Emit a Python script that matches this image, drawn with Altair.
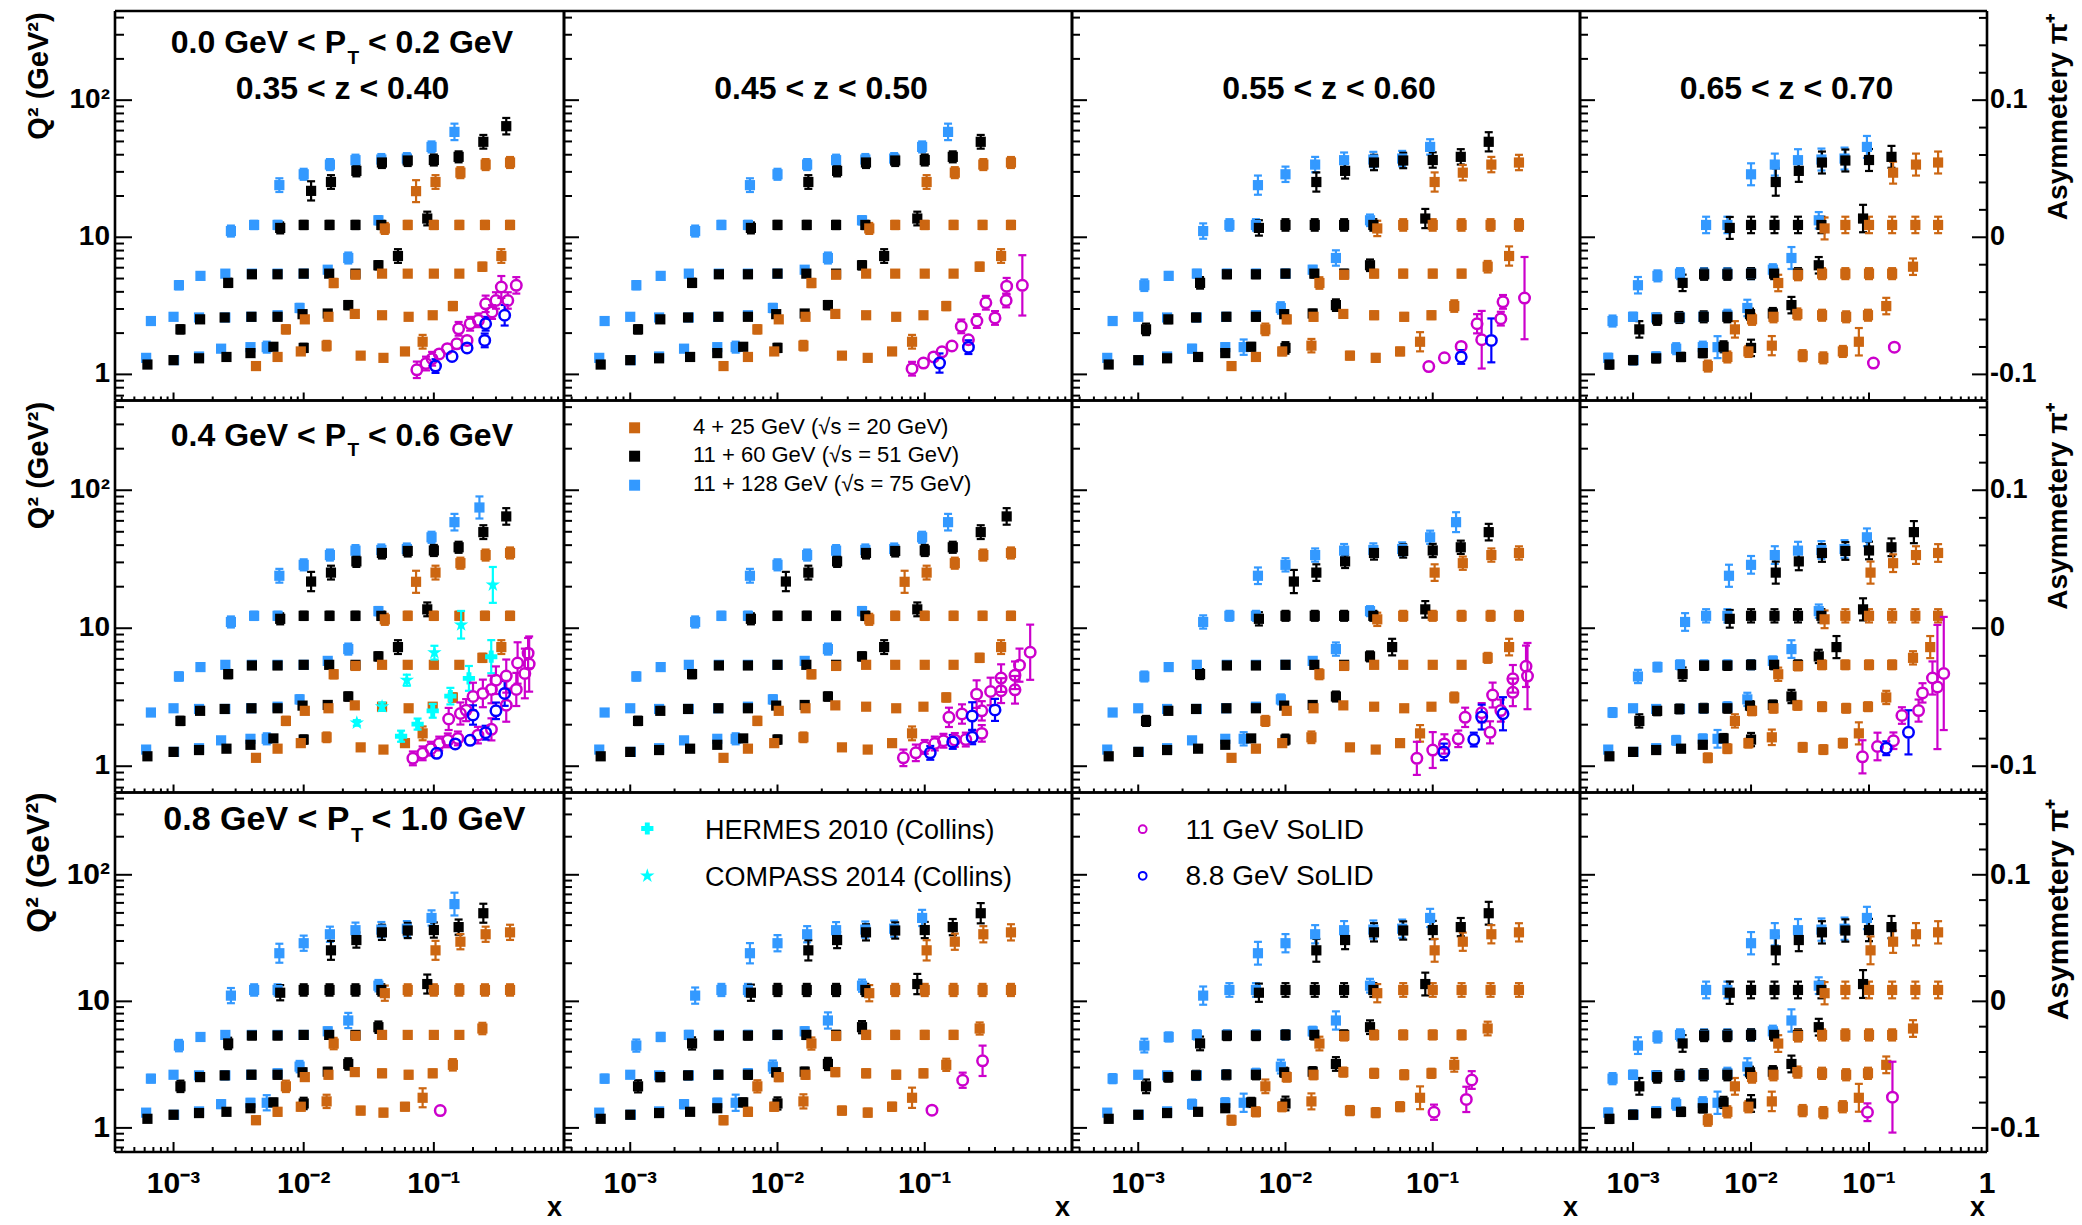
import math
import altair as alt
import pandas as pd

FONT = "Liberation Sans"
FIG_W, FIG_H = 2082, 1225
STAR = ("M0,-1L0.2245,-0.309L0.951,-0.309L0.363,0.118L0.588,0.809L0,0.382"
        "L-0.588,0.809L-0.363,0.118L-0.951,-0.309L-0.2245,-0.309Z")

# ---------------- axis ranges and labels ----------------
X_MIN, X_MAX = 3.55e-4, 1.0
Q2_MIN, Q2_MAX = 0.645, 447.0
LOG_X_SPAN = math.log10(X_MAX / X_MIN)
LOG_Q_SPAN = math.log10(Q2_MAX / Q2_MIN)

# panel frames on the page (left/top edge and size, pixels)
COL_LEFT = [115, 564, 1072, 1580]
COL_W = [449, 508, 508, 407]
ROW_TOP = [11, 400.5, 792.5]
ROW_H = [389.5, 392, 359.5]

Z_LABELS = ["0.35 < z < 0.40", "0.45 < z < 0.50", "0.55 < z < 0.60", "0.65 < z < 0.70"]
PT_LEFT = ["0.0 GeV < P", "0.4 GeV < P", "0.8 GeV < P"]
PT_RIGHT = ["< 0.2 GeV", "< 0.6 GeV", "< 1.0 GeV"]

X_TICK_LABELS = ["10⁻³", "10⁻²", "10⁻¹", "1"]
Q2_TICK_LABELS = ["1", "10", "10²"]
A_TICK_LABELS = ["-0.1", "0", "0.1"]
Q2_TITLE = "Q² (GeV²)"
A_TITLE = "Asymmetery  π⁺"
X_TITLE = "x"

Q2_MAJOR = [1, 10, 100]
Q2_MINOR = [0.7, 0.8, 0.9, 2, 3, 4, 5, 6, 7, 8, 9, 20, 30, 40, 50, 60, 70, 80, 90, 200, 300, 400]
X_MAJOR = [1e-3, 1e-2, 1e-1, 1.0]
X_MINOR = [4e-4, 5e-4, 6e-4, 7e-4, 8e-4, 9e-4,
           2e-3, 3e-3, 4e-3, 5e-3, 6e-3, 7e-3, 8e-3, 9e-3,
           2e-2, 3e-2, 4e-2, 5e-2, 6e-2, 7e-2, 8e-2, 9e-2,
           0.2, 0.3, 0.4, 0.5, 0.6, 0.7, 0.8, 0.9]
A_MAJOR = [-0.1, 0.0, 0.1]
A_MINOR = [-0.08, -0.06, -0.04, -0.02, 0.02, 0.04, 0.06, 0.08, 0.12, 0.14, 0.16]

# ---------------- EIC pseudo-data bins (x, Q2, asymmetry error) ----------------
SERIES = ["4 + 25 GeV", "11 + 60 GeV", "11 + 128 GeV", "11 GeV SoLID", "8.8 GeV SoLID",
          "HERMES 2010", "COMPASS 2014"]
COLORS = ["#CC6611", "#000000", "#3399FF", "#CC00CC", "#0000FF", "#00FFFF", "#00FFFF"]

OR_X = [4.3e-3, 6.3e-3, 9.5e-3, 1.5e-2, 2.74e-2, 4.1e-2, 6.0e-2, 8.2e-2,
        7.3e-3, 1.02e-2, 1.55e-2, 2.47e-2, 4.0e-2, 6.4e-2, 9.8e-2, 0.14,
        1.7e-2, 2.5e-2, 4.0e-2, 6.3e-2, 0.1, 0.157, 0.236, 0.33,
        4.2e-2, 6.3e-2, 0.1, 0.157, 0.247, 0.385,
        7.3e-2, 0.103, 0.16, 0.25, 0.385]
OR_Q2 = [1.15, 1.34, 1.47, 1.62, 1.37, 1.32, 1.47, 1.73,
         2.13, 2.52, 2.63, 2.76, 2.70, 2.63, 2.70, 3.15,
         4.64, 5.33, 5.43, 5.43, 5.43, 5.43, 6.10, 7.30,
         11.6, 12.3, 12.3, 12.3, 12.3, 12.3,
         21.7, 25.3, 29.6, 33.9, 35.1]
OR_ERR = [0.002, 0.002, 0.002, 0.0035, 0.002, 0.002, 0.002, 0.005,
          0.003, 0.002, 0.002, 0.002, 0.002, 0.002, 0.002, 0.003,
          0.003, 0.002, 0.002, 0.002, 0.002, 0.002, 0.003, 0.005,
          0.004, 0.003, 0.003, 0.003, 0.003, 0.003,
          0.008, 0.005, 0.004, 0.004, 0.004]
OR_TAG = ["", "", "", "", "", "", "", "",
          "", "", "", "", "", "", "", "",
          "", "", "", "", "", "", "", "o7",
          "", "", "", "", "", "",
          "o21", "o25", "", "", ""]

BK_X = [6.3e-4, 1.0e-3, 1.57e-3, 2.55e-3, 3.9e-3, 5.85e-3, 1.0e-2,
        1.13e-3, 1.6e-3, 2.47e-3, 3.97e-3, 6.3e-3, 9.8e-3, 1.53e-2, 2.2e-2,
        2.63e-3, 4.0e-3, 6.3e-3, 1.0e-2, 1.57e-2, 2.5e-2, 3.75e-2, 5.3e-2,
        6.6e-3, 1.0e-2, 1.58e-2, 2.5e-2, 3.95e-2, 8.9e-2,
        1.14e-2, 1.62e-2, 2.54e-2, 3.99e-2, 6.3e-2, 0.1, 0.155, 0.24, 0.36]
BK_Q2 = [1.18, 1.27, 1.31, 1.34, 1.43, 1.59, 1.56,
         2.13, 2.52, 2.60, 2.63, 2.63, 2.75, 2.78, 3.20,
         4.65, 5.37, 5.37, 5.43, 5.43, 5.43, 6.25, 7.30,
         11.7, 12.3, 12.3, 12.3, 12.3, 13.7,
         21.8, 25.3, 30.5, 35.1, 36.3, 36.6, 38.6, 49.7, 64.6]
BK_ERR = [0.0015, 0.0015, 0.0015, 0.0015, 0.0015, 0.002, 0.003,
          0.003, 0.002, 0.002, 0.002, 0.002, 0.002, 0.002, 0.003,
          0.003, 0.002, 0.002, 0.002, 0.002, 0.002, 0.003, 0.005,
          0.004, 0.003, 0.003, 0.003, 0.003, 0.005,
          0.007, 0.005, 0.004, 0.004, 0.004, 0.004, 0.004, 0.005, 0.006]
BK_TAG = ["", "", "", "", "", "", "",
          "", "", "", "", "", "", "", "",
          "", "", "", "", "", "", "", "k7",
          "", "", "", "", "", "",
          "k22", "", "", "", "", "", "", "k50", "k65"]

BL_X = [6.16e-4, 1.01e-3, 1.57e-3, 2.32e-3, 3.9e-3, 5.2e-3,
        6.7e-4, 1.0e-3, 1.57e-3, 2.5e-3, 3.95e-3, 6.3e-3, 9.3e-3,
        1.1e-3, 1.61e-3, 2.5e-3, 4.0e-3, 6.3e-3, 1.0e-2, 1.53e-2, 2.2e-2,
        2.76e-3, 4.16e-3, 6.3e-3, 3.75e-2,
        6.5e-3, 1.0e-2, 1.59e-2, 2.5e-2, 3.95e-2, 6.2e-2, 9.6e-2, 0.144, 0.224]
BL_Q2 = [1.32, 1.27, 1.35, 1.54, 1.58, 1.58,
         2.45, 2.63, 2.60, 2.60, 2.63, 2.70, 3.05,
         4.47, 5.23, 5.43, 5.43, 5.43, 5.43, 5.80, 7.06,
         11.1, 12.3, 12.3, 13.3,
         24.0, 28.8, 33.9, 36.5, 36.9, 37.5, 45.6, 58.7, 75.0]
BL_ERR = [0.0015, 0.0015, 0.0015, 0.002, 0.002, 0.004,
          0.002, 0.0015, 0.0015, 0.0015, 0.0015, 0.002, 0.003,
          0.003, 0.002, 0.002, 0.002, 0.002, 0.002, 0.002, 0.004,
          0.004, 0.003, 0.003, 0.003,
          0.005, 0.004, 0.004, 0.004, 0.004, 0.004, 0.004, 0.006, 0.008]
BL_TAG = ["", "", "", "", "", "",
          "", "", "", "", "", "", "",
          "", "", "", "", "", "", "", "",
          "b11", "", "", "",
          "b24", "", "", "", "", "", "", "b59", "b75"]

# optional bins present in each panel (row-major order)
OPT_PRESENT = [
    ["o21", "o25", "o7", "k22", "k65", "k50", "k7", "b24", "b11", "b59"],
    ["o25", "o7", "k50", "k7", "b24", "b11", "b59"],
    ["o25", "o7", "k50", "b24", "b11"],
    [],
    ["o21", "o25", "o7", "k22", "k65", "k50", "k7", "b24", "b11", "b59", "b75"],
    ["o21", "o25", "o7", "k22", "k65", "k50", "k7", "b24", "b11", "b59"],
    ["o25", "o7", "k22", "k50", "k7", "b24", "b11", "b59"],
    ["o25", "o7", "k50", "k7", "b24", "b11"],
    ["o25", "k50", "b24", "b11", "b59"],
    ["o25", "k50", "b24", "b11"],
    ["o25", "k50", "b24", "b11"],
    ["o25"],
]
ERR_SCALE = [1.0, 1.0, 1.4, 2.0,
             1.0, 1.0, 1.2, 1.6,
             1.5, 1.6, 1.8, 2.2]

# SoLID projections (x, Q2, asymmetry error) per panel
MG_PTS = [
    [(0.074, 1.08, .006), (0.087, 1.20, .005), (0.097, 1.30, .005), (0.11, 1.41, .004), (0.127, 1.54, .004),
     (0.15, 1.67, .004), (0.155, 2.15, .005), (0.18, 1.77, .004), (0.19, 2.34, .005), (0.22, 2.48, .005),
     (0.25, 3.27, .006), (0.28, 2.85, .005), (0.30, 3.46, .006), (0.33, 4.34, .008), (0.37, 3.46, .006),
     (0.43, 4.46, .006)],
    [(0.082, 1.10, .005), (0.098, 1.21, .004), (0.115, 1.34, .004), (0.131, 1.46, .004), (0.153, 1.61, .004),
     (0.177, 2.24, .005), (0.198, 1.79, .004), (0.226, 2.45, .005), (0.26, 3.33, .005), (0.30, 2.58, .005),
     (0.357, 3.46, .005), (0.36, 4.40, .006), (0.46, 4.46, .022)],
    [(0.094, 1.14, .003), (0.12, 1.32, .003), (0.156, 1.60, .004), (0.20, 2.34, .007), (0.215, 1.79, .021),
     (0.29, 2.55, .005), (0.30, 3.38, .005), (0.42, 3.60, .030)],
    [(0.109, 1.21, .003), (0.164, 1.58, .004)],
    [(0.069, 1.14, .005), (0.082, 1.24, .005), (0.095, 1.34, .005), (0.11, 1.46, .005), (0.128, 1.54, .005),
     (0.13, 2.20, .008), (0.153, 1.59, .005), (0.16, 2.41, .008), (0.177, 2.55, .008), (0.20, 3.20, .010),
     (0.218, 1.68, .006), (0.238, 3.37, .010), (0.277, 1.85, .008), (0.277, 3.60, .010), (0.30, 4.20, .010),
     (0.36, 4.50, .012), (0.36, 2.77, .012), (0.43, 3.60, .012), (0.44, 5.60, .015), (0.53, 6.60, .011),
     (0.54, 5.50, .020), (0.50, 4.70, .018)],
    [(0.0716, 1.15, .006), (0.087, 1.25, .006), (0.10, 1.38, .005), (0.117, 1.46, .005), (0.134, 1.53, .005),
     (0.146, 2.26, .007), (0.16, 1.55, .005), (0.179, 2.39, .007), (0.19, 1.56, .005), (0.225, 3.33, .010),
     (0.244, 2.52, .007), (0.244, 1.73, .006), (0.28, 3.48, .010), (0.33, 4.35, .010), (0.33, 3.53, .009),
     (0.41, 3.58, .010), (0.41, 4.56, .010), (0.44, 5.40, .012), (0.52, 6.70, .020)],
    [(0.078, 1.14, .012), (0.10, 1.31, .013), (0.12, 1.45, .007), (0.149, 1.58, .006), (0.166, 2.26, .007),
     (0.215, 2.44, .007), (0.245, 1.76, .008), (0.255, 3.28, .009), (0.29, 2.53, .008), (0.35, 3.43, .010),
     (0.35, 4.30, .010), (0.43, 5.30, .015), (0.44, 4.50, .024)],
    [(0.088, 1.17, .012), (0.118, 1.39, .010), (0.161, 1.53, .006), (0.19, 2.33, .006), (0.263, 2.53, .008),
     (0.284, 3.40, .007), (0.345, 4.36, .012), (0.38, 3.75, .045), (0.43, 4.70, .041)],
    [(0.112, 1.37, .004)],
    [(0.112, 1.38, .003), (0.181, 2.38, .006), (0.247, 3.39, .012)],
    [(0.102, 1.33, .006), (0.169, 1.68, .010), (0.184, 2.39, .007)],
    [(0.097, 1.33, .007), (0.158, 1.75, .028)],
]
BC_PTS = [
    [(0.103, 1.15, .005), (0.138, 1.35, .004), (0.18, 1.56, .004), (0.246, 1.77, .005), (0.25, 2.34, .005),
     (0.35, 2.70, .0075)],
    [(0.126, 1.21, .007), (0.198, 1.58, .005)],
    [(0.156, 1.34, .005), (0.25, 1.77, .016)],
    [],
    [(0.105, 1.24, .004), (0.146, 1.45, .004), (0.19, 1.54, .004), (0.25, 1.75, .005), (0.20, 2.35, .007),
     (0.30, 2.52, .006), (0.35, 3.37, .009)],
    [(0.109, 1.25, .005), (0.155, 1.50, .005), (0.21, 1.62, .005), (0.21, 2.31, .010), (0.30, 2.56, .008)],
    [(0.119, 1.27, .006), (0.19, 1.56, .005), (0.215, 2.27, .009), (0.30, 2.40, .012)],
    [(0.14, 1.35, .005), (0.216, 1.76, .016)],
    [], [], [], [],
]

# world data (0.4 < PT < 0.6 GeV, 0.35 < z < 0.40 panel)
HERMES_X = [0.056, 0.075, 0.098, 0.134, 0.186, 0.276]
HERMES_Q2 = [1.65, 2.02, 2.52, 3.22, 4.33, 6.22]
HERMES_ERR = [0.004, 0.004, 0.005, 0.006, 0.009, 0.012]
COMPASS_X = [0.0256, 0.040, 0.062, 0.101, 0.162, 0.284]
COMPASS_Q2 = [2.06, 2.70, 4.20, 6.65, 10.6, 20.6]
COMPASS_ERR = [0.002, 0.003, 0.004, 0.005, 0.010, 0.013]

LEGEND1 = ["4 + 25 GeV (√s = 20 GeV)", "11 + 60 GeV (√s = 51 GeV)", "11 + 128 GeV (√s = 75 GeV)"]
LEGEND2 = ["HERMES 2010 (Collins)", "COMPASS 2014 (Collins)"]
LEGEND3 = ["11 GeV SoLID", "8.8 GeV SoLID"]

DUMMY = pd.DataFrame({"d": [0]})
COLOR = alt.Color("s:N", scale=alt.Scale(domain=SERIES, range=COLORS), legend=None)


def Xq(field, c):
    left = COL_LEFT[c]
    return alt.X(f"{field}:Q", axis=None, scale=alt.Scale(
        type="log", domain=[X_MIN, X_MAX], range=[left, left + COL_W[c]], nice=False))


def Yq(field, r):
    top = ROW_TOP[r]
    return alt.Y(f"{field}:Q", axis=None, scale=alt.Scale(
        type="log", domain=[Q2_MIN, Q2_MAX], range=[top + ROW_H[r], top], nice=False))


def text(s, x, y, size, weight="bold", align="left", angle=0, baseline="alphabetic"):
    return alt.Chart(DUMMY).mark_text(
        text=s, align=align, baseline=baseline, font=FONT, fontSize=size, angle=angle,
        fontWeight=weight, color="black").encode(x=alt.value(x), y=alt.value(y))


def frame_frame():
    return pd.DataFrame([(X_MIN, X_MAX, Q2_MIN, Q2_MIN), (X_MIN, X_MAX, Q2_MAX, Q2_MAX),
                         (X_MIN, X_MIN, Q2_MIN, Q2_MAX), (X_MAX, X_MAX, Q2_MIN, Q2_MAX)],
                        columns=["x1", "x2", "y1", "y2"])


def tick_frame(r, c):
    w, h = COL_W[c], ROW_H[r]
    dx, dy = w / LOG_X_SPAN, h / LOG_Q_SPAN
    ymaj, ymin = (17, 9) if c == 0 else (15, 8)
    xmaj, xmin = (10, 5) if r == 2 else (8, 4)
    rows = []
    for v in Q2_MAJOR:
        rows.append((X_MIN, X_MIN * 10 ** (ymaj / dx), v, v))
    for v in Q2_MINOR:
        rows.append((X_MIN, X_MIN * 10 ** (ymin / dx), v, v))
    for v in X_MAJOR[:3]:
        rows.append((v, v, Q2_MIN, Q2_MIN * 10 ** (xmaj / dy)))
    for v in X_MINOR:
        rows.append((v, v, Q2_MIN, Q2_MIN * 10 ** (xmin / dy)))
    if c == 3:
        for a in A_MAJOR:
            q = 10 ** (1 + 10 * a)
            rows.append((X_MAX / 10 ** (15 / dx), X_MAX, q, q))
        for a in A_MINOR:
            q = 10 ** (1 + 10 * a)
            rows.append((X_MAX / 10 ** (8 / dx), X_MAX, q, q))
    return pd.DataFrame(rows, columns=["x1", "x2", "y1", "y2"])


def grid_points(p):
    present = set(OPT_PRESENT[p])
    rows = []
    for name, xs, qs, es, tags in [
        (SERIES[2], BL_X, BL_Q2, BL_ERR, BL_TAG),
        (SERIES[1], BK_X, BK_Q2, BK_ERR, BK_TAG),
        (SERIES[0], OR_X, OR_Q2, OR_ERR, OR_TAG),
    ]:
        for x, q, e, t in zip(xs, qs, es, tags):
            if t and t not in present:
                continue
            rows.append((name, x, q, e * ERR_SCALE[p]))
    return rows


def point_frame(pts):
    return pd.DataFrame([dict(s=s, x=x, q2=q) for s, x, q, e in pts])


def err_frame(pts, r, c, gap_px=0.0):
    dx, dy = COL_W[c] / LOG_X_SPAN, ROW_H[r] / LOG_Q_SPAN
    cw = 10 ** (4 / dx)
    g = 10 ** (gap_px / dy)
    rows = []
    for s, x, q, e in pts:
        d = 10 ** (10 * e)
        lo, hi = q / d, q * d
        if lo < q / g:
            rows.append((s, x, x, lo, q / g))
            rows.append((s, x / cw, x * cw, lo, lo))
        if hi > q * g:
            rows.append((s, x, x, q * g, hi))
            rows.append((s, x / cw, x * cw, hi, hi))
    return pd.DataFrame(rows, columns=["s", "x1", "x2", "y1", "y2"])


def panel_layers(r, c):
    L0, T0, w, h = COL_LEFT[c], ROW_TOP[r], COL_W[c], ROW_H[r]
    p = r * 4 + c
    big = r == 2
    out = []

    def seg(df, width=2.2):
        return alt.Chart(df).mark_rule(strokeWidth=width).encode(
            x=Xq("x1", c), x2="x2", y=Yq("y1", r), y2="y2", color=COLOR)

    # ---- frame + ticks ----
    out.append(alt.Chart(frame_frame()).mark_rule(color="black", strokeWidth=2.6).encode(
        x=Xq("x1", c), x2="x2", y=Yq("y1", r), y2="y2"))
    out.append(alt.Chart(tick_frame(r, c)).mark_rule(color="black", strokeWidth=2).encode(
        x=Xq("x1", c), x2="x2", y=Yq("y1", r), y2="y2"))

    # ---- EIC projections ----
    gp = grid_points(p)
    out.append(seg(err_frame(gp, r, c)))
    out.append(alt.Chart(point_frame(gp)).mark_square(size=104, opacity=1).encode(
        x=Xq("x", c), y=Yq("q2", r), color=COLOR))

    # ---- world data (one panel) ----
    if p == 4:
        hm = [(SERIES[5], x, q, e) for x, q, e in zip(HERMES_X, HERMES_Q2, HERMES_ERR)]
        cp = [(SERIES[6], x, q, e) for x, q, e in zip(COMPASS_X, COMPASS_Q2, COMPASS_ERR)]
        out.append(seg(err_frame(hm + cp, r, c)))
        out.append(alt.Chart(point_frame(cp)).mark_point(
            shape=STAR, size=230, filled=True, opacity=1).encode(
            x=Xq("x", c), y=Yq("q2", r), color=COLOR))
        out.append(alt.Chart(point_frame(hm)).mark_point(
            shape="cross", size=150, filled=True, opacity=1).encode(
            x=Xq("x", c), y=Yq("q2", r), color=COLOR))

    # ---- SoLID projections (open circles) ----
    op = [(SERIES[3], x, q, e) for x, q, e in MG_PTS[p]] + [(SERIES[4], x, q, e) for x, q, e in BC_PTS[p]]
    if op:
        ef = err_frame(op, r, c, gap_px=6)
        if len(ef):
            out.append(seg(ef))
        out.append(alt.Chart(point_frame(op)).mark_point(
            shape="circle", size=110, filled=False, opacity=1, strokeWidth=2.5).encode(
            x=Xq("x", c), y=Yq("q2", r), color=COLOR))

    # ---- left Q2 scale labels + title (first column) ----
    if c == 0:
        qf = pd.DataFrame({"q": Q2_MAJOR, "t": Q2_TICK_LABELS})
        out.append(alt.Chart(qf).mark_text(
            align="right", baseline="middle", font=FONT, fontSize=30 if big else 28,
            fontWeight="bold", color="black").encode(y=Yq("q", r), x=alt.value(L0 - 5), text="t:N"))
        out.append(text(Q2_TITLE, L0 - 76, T0 + (70 if big else 65), 32 if big else 29,
                        align="center", angle=270, baseline="middle"))

    # ---- bottom x labels + title (last row) ----
    if r == 2:
        n = 4 if c == 3 else 3
        xf = pd.DataFrame({"v": X_MAJOR[:n], "t": X_TICK_LABELS[:n]})
        out.append(alt.Chart(xf).mark_text(
            align="center", baseline="alphabetic", font=FONT, fontSize=30,
            fontWeight="bold", color="black").encode(x=Xq("v", c), y=alt.value(T0 + h + 41), text="t:N"))
        out.append(text(X_TITLE, L0 + w - 2, T0 + h + 64, 27, align="right"))

    # ---- right-hand asymmetry scale (last column) ----
    if c == 3:
        af = pd.DataFrame({"q": [10 ** (1 + 10 * a) for a in A_MAJOR], "t": A_TICK_LABELS})
        out.append(alt.Chart(af).mark_text(
            align="left", baseline="middle", font=FONT, fontSize=29 if big else 27,
            fontWeight="bold", color="black").encode(y=Yq("q", r), x=alt.value(L0 + w + 3), text="t:N"))
        out.append(text(A_TITLE, L0 + w + 72, T0 + (117 if big else 106), 30 if big else 28,
                        align="center", angle=270, baseline="middle"))

    # ---- panel labels ----
    if c == 0:
        base = [42.4, 45.0, 37.7][r]
        sub = [52.7, 55.3, 49.3][r]
        fs = 34 if big else 32
        ax = 234.5 if big else 231
        out.append(text(PT_LEFT[r], L0 + ax, T0 + base, fs, align="right"))
        out.append(text("T", L0 + ax + 1.5, T0 + sub, 20 if big else 19))
        out.append(text(PT_RIGHT[r], L0 + ax + 22, T0 + base, fs))
    if r == 0:
        out.append(text(Z_LABELS[c], L0 + w / 2 + 3, T0 + 87.7, 32, align="center"))

    # ---- legends ----
    if p == 5:
        for i, (lab, col) in enumerate(zip(LEGEND1, COLORS[:3])):
            yc = T0 + [27.3, 55.7, 84.7][i]
            out.append(alt.Chart(DUMMY).mark_square(size=121, color=col, opacity=1).encode(
                x=alt.value(L0 + 70.6), y=alt.value(yc)))
            out.append(text(lab, L0 + 129, yc + 6, 22, weight="normal"))
    if p == 9:
        out.append(alt.Chart(DUMMY).mark_point(shape="cross", size=150, filled=True, opacity=1,
                                               color=COLORS[5]).encode(
            x=alt.value(L0 + 83.3), y=alt.value(T0 + 36)))
        out.append(alt.Chart(DUMMY).mark_point(shape=STAR, size=230, filled=True, opacity=1,
                                               color=COLORS[6]).encode(
            x=alt.value(L0 + 83.3), y=alt.value(T0 + 83.3)))
        out.append(text(LEGEND2[0], L0 + 141, T0 + 46, 27, weight="normal"))
        out.append(text(LEGEND2[1], L0 + 141, T0 + 93.3, 27, weight="normal"))
    if p == 10:
        out.append(alt.Chart(DUMMY).mark_point(shape="circle", size=60, filled=False, opacity=1,
                                               strokeWidth=2, color=COLORS[3]).encode(
            x=alt.value(L0 + 70.7), y=alt.value(T0 + 36.7)))
        out.append(alt.Chart(DUMMY).mark_point(shape="circle", size=60, filled=False, opacity=1,
                                               strokeWidth=2, color=COLORS[4]).encode(
            x=alt.value(L0 + 70.7), y=alt.value(T0 + 83.3)))
        out.append(text(LEGEND3[0], L0 + 113.5, T0 + 46, 28, weight="normal"))
        out.append(text(LEGEND3[1], L0 + 113.5, T0 + 92.7, 28, weight="normal"))
    return out


all_layers = []
for r in range(3):
    for c in range(4):
        all_layers += panel_layers(r, c)

chart = alt.layer(*all_layers).resolve_scale(x="independent", y="independent").properties(
    width=FIG_W, height=FIG_H, padding=0, background="white",
    autosize=alt.AutoSizeParams(type="none"),
).configure_view(strokeWidth=0)

chart.save("out.html", embed_options={"renderer": "svg", "actions": False})
